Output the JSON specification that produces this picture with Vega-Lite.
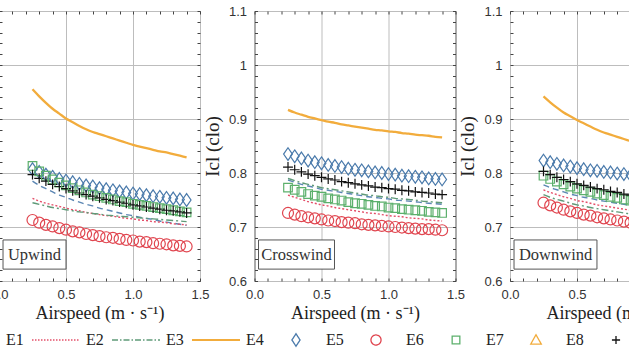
{
  "$schema": "https://vega.github.io/schema/vega-lite/v6.json",
  "usermeta": {"embedOptions": {"actions": false}},
  "padding": {"left": -53, "top": 4, "right": -91, "bottom": 4},
  "bounds": "flush",
  "spacing": 54.5,
  "datasets": {
    "curves": [
      {"p":"U","x":0.25,"E1":0.785,"E2":0.753,"E3":0.745,"E4":0.955,"E5":0.807,"E6":0.713,"E7":0.813,"E9":0.797},
      {"p":"U","x":0.30,"E1":0.777,"E2":0.748,"E3":0.742,"E4":0.942,"E5":0.802,"E6":0.708,"E7":0.803,"E9":0.790},
      {"p":"U","x":0.35,"E1":0.771,"E2":0.744,"E3":0.739,"E4":0.930,"E5":0.797,"E6":0.704,"E7":0.795,"E9":0.785},
      {"p":"U","x":0.40,"E1":0.765,"E2":0.741,"E3":0.736,"E4":0.919,"E5":0.793,"E6":0.701,"E7":0.788,"E9":0.779},
      {"p":"U","x":0.45,"E1":0.759,"E2":0.738,"E3":0.734,"E4":0.910,"E5":0.789,"E6":0.698,"E7":0.782,"E9":0.775},
      {"p":"U","x":0.50,"E1":0.755,"E2":0.735,"E3":0.732,"E4":0.901,"E5":0.786,"E6":0.695,"E7":0.777,"E9":0.771},
      {"p":"U","x":0.55,"E1":0.750,"E2":0.732,"E3":0.730,"E4":0.894,"E5":0.783,"E6":0.692,"E7":0.772,"E9":0.767},
      {"p":"U","x":0.60,"E1":0.746,"E2":0.730,"E3":0.728,"E4":0.887,"E5":0.780,"E6":0.690,"E7":0.768,"E9":0.763},
      {"p":"U","x":0.65,"E1":0.742,"E2":0.727,"E3":0.727,"E4":0.881,"E5":0.777,"E6":0.687,"E7":0.764,"E9":0.760},
      {"p":"U","x":0.70,"E1":0.739,"E2":0.725,"E3":0.725,"E4":0.876,"E5":0.775,"E6":0.685,"E7":0.760,"E9":0.757},
      {"p":"U","x":0.75,"E1":0.735,"E2":0.723,"E3":0.724,"E4":0.872,"E5":0.772,"E6":0.683,"E7":0.757,"E9":0.754},
      {"p":"U","x":0.80,"E1":0.732,"E2":0.721,"E3":0.722,"E4":0.868,"E5":0.770,"E6":0.681,"E7":0.754,"E9":0.751},
      {"p":"U","x":0.85,"E1":0.729,"E2":0.720,"E3":0.721,"E4":0.864,"E5":0.768,"E6":0.680,"E7":0.751,"E9":0.749},
      {"p":"U","x":0.90,"E1":0.726,"E2":0.718,"E3":0.720,"E4":0.860,"E5":0.766,"E6":0.678,"E7":0.748,"E9":0.746},
      {"p":"U","x":0.95,"E1":0.723,"E2":0.716,"E3":0.719,"E4":0.856,"E5":0.764,"E6":0.676,"E7":0.746,"E9":0.744},
      {"p":"U","x":1.00,"E1":0.721,"E2":0.715,"E3":0.718,"E4":0.852,"E5":0.762,"E6":0.675,"E7":0.743,"E9":0.741},
      {"p":"U","x":1.05,"E1":0.718,"E2":0.713,"E3":0.717,"E4":0.849,"E5":0.761,"E6":0.673,"E7":0.741,"E9":0.739},
      {"p":"U","x":1.10,"E1":0.716,"E2":0.712,"E3":0.716,"E4":0.846,"E5":0.759,"E6":0.672,"E7":0.739,"E9":0.737},
      {"p":"U","x":1.15,"E1":0.714,"E2":0.710,"E3":0.715,"E4":0.843,"E5":0.757,"E6":0.670,"E7":0.737,"E9":0.735},
      {"p":"U","x":1.20,"E1":0.711,"E2":0.709,"E3":0.714,"E4":0.840,"E5":0.756,"E6":0.669,"E7":0.735,"E9":0.733},
      {"p":"U","x":1.25,"E1":0.709,"E2":0.708,"E3":0.713,"E4":0.838,"E5":0.754,"E6":0.668,"E7":0.733,"E9":0.731},
      {"p":"U","x":1.30,"E1":0.707,"E2":0.706,"E3":0.712,"E4":0.835,"E5":0.753,"E6":0.666,"E7":0.731,"E9":0.730},
      {"p":"U","x":1.35,"E1":0.705,"E2":0.705,"E3":0.711,"E4":0.832,"E5":0.751,"E6":0.665,"E7":0.729,"E9":0.728},
      {"p":"U","x":1.40,"E1":0.703,"E2":0.704,"E3":0.710,"E4":0.829,"E5":0.750,"E6":0.664,"E7":0.727,"E9":0.726},
      {"p":"C","x":0.25,"E1":0.787,"E2":0.759,"E3":0.790,"E4":0.917,"E5":0.835,"E6":0.726,"E7":0.773,"E9":0.811},
      {"p":"C","x":0.30,"E1":0.783,"E2":0.755,"E3":0.786,"E4":0.912,"E5":0.831,"E6":0.723,"E7":0.769,"E9":0.806},
      {"p":"C","x":0.35,"E1":0.779,"E2":0.751,"E3":0.782,"E4":0.908,"E5":0.827,"E6":0.720,"E7":0.765,"E9":0.802},
      {"p":"C","x":0.40,"E1":0.776,"E2":0.747,"E3":0.779,"E4":0.904,"E5":0.823,"E6":0.718,"E7":0.761,"E9":0.798},
      {"p":"C","x":0.45,"E1":0.773,"E2":0.744,"E3":0.776,"E4":0.901,"E5":0.820,"E6":0.716,"E7":0.758,"E9":0.795},
      {"p":"C","x":0.50,"E1":0.770,"E2":0.741,"E3":0.773,"E4":0.898,"E5":0.818,"E6":0.714,"E7":0.756,"E9":0.792},
      {"p":"C","x":0.55,"E1":0.768,"E2":0.739,"E3":0.771,"E4":0.895,"E5":0.815,"E6":0.712,"E7":0.753,"E9":0.789},
      {"p":"C","x":0.60,"E1":0.766,"E2":0.736,"E3":0.769,"E4":0.893,"E5":0.813,"E6":0.711,"E7":0.751,"E9":0.787},
      {"p":"C","x":0.65,"E1":0.764,"E2":0.734,"E3":0.767,"E4":0.890,"E5":0.811,"E6":0.709,"E7":0.749,"E9":0.784},
      {"p":"C","x":0.70,"E1":0.762,"E2":0.732,"E3":0.765,"E4":0.888,"E5":0.808,"E6":0.708,"E7":0.746,"E9":0.782},
      {"p":"C","x":0.75,"E1":0.760,"E2":0.730,"E3":0.763,"E4":0.886,"E5":0.806,"E6":0.707,"E7":0.744,"E9":0.780},
      {"p":"C","x":0.80,"E1":0.758,"E2":0.728,"E3":0.761,"E4":0.884,"E5":0.805,"E6":0.705,"E7":0.743,"E9":0.778},
      {"p":"C","x":0.85,"E1":0.756,"E2":0.726,"E3":0.759,"E4":0.882,"E5":0.803,"E6":0.704,"E7":0.741,"E9":0.776},
      {"p":"C","x":0.90,"E1":0.755,"E2":0.725,"E3":0.758,"E4":0.880,"E5":0.801,"E6":0.703,"E7":0.739,"E9":0.774},
      {"p":"C","x":0.95,"E1":0.753,"E2":0.723,"E3":0.756,"E4":0.879,"E5":0.800,"E6":0.702,"E7":0.738,"E9":0.773},
      {"p":"C","x":1.00,"E1":0.752,"E2":0.721,"E3":0.755,"E4":0.877,"E5":0.798,"E6":0.701,"E7":0.736,"E9":0.771},
      {"p":"C","x":1.05,"E1":0.750,"E2":0.720,"E3":0.753,"E4":0.876,"E5":0.797,"E6":0.700,"E7":0.735,"E9":0.770},
      {"p":"C","x":1.10,"E1":0.749,"E2":0.719,"E3":0.752,"E4":0.874,"E5":0.795,"E6":0.699,"E7":0.733,"E9":0.768},
      {"p":"C","x":1.15,"E1":0.748,"E2":0.717,"E3":0.751,"E4":0.873,"E5":0.794,"E6":0.698,"E7":0.732,"E9":0.767},
      {"p":"C","x":1.20,"E1":0.747,"E2":0.716,"E3":0.750,"E4":0.871,"E5":0.793,"E6":0.697,"E7":0.731,"E9":0.765},
      {"p":"C","x":1.25,"E1":0.745,"E2":0.715,"E3":0.748,"E4":0.870,"E5":0.792,"E6":0.696,"E7":0.730,"E9":0.764},
      {"p":"C","x":1.30,"E1":0.744,"E2":0.713,"E3":0.747,"E4":0.869,"E5":0.790,"E6":0.696,"E7":0.728,"E9":0.763},
      {"p":"C","x":1.35,"E1":0.743,"E2":0.712,"E3":0.746,"E4":0.867,"E5":0.789,"E6":0.695,"E7":0.727,"E9":0.761},
      {"p":"C","x":1.40,"E1":0.742,"E2":0.711,"E3":0.745,"E4":0.866,"E5":0.788,"E6":0.694,"E7":0.726,"E9":0.760},
      {"p":"D","x":0.25,"E1":0.778,"E2":0.769,"E3":0.760,"E4":0.942,"E5":0.823,"E6":0.745,"E7":0.795,"E9":0.803},
      {"p":"D","x":0.30,"E1":0.773,"E2":0.764,"E3":0.755,"E4":0.931,"E5":0.820,"E6":0.740,"E7":0.789,"E9":0.797},
      {"p":"D","x":0.35,"E1":0.769,"E2":0.760,"E3":0.751,"E4":0.921,"E5":0.817,"E6":0.736,"E7":0.784,"E9":0.792},
      {"p":"D","x":0.40,"E1":0.765,"E2":0.756,"E3":0.748,"E4":0.912,"E5":0.814,"E6":0.732,"E7":0.779,"E9":0.788},
      {"p":"D","x":0.45,"E1":0.761,"E2":0.753,"E3":0.744,"E4":0.905,"E5":0.812,"E6":0.729,"E7":0.775,"E9":0.784},
      {"p":"D","x":0.50,"E1":0.758,"E2":0.749,"E3":0.741,"E4":0.898,"E5":0.809,"E6":0.726,"E7":0.771,"E9":0.780},
      {"p":"D","x":0.55,"E1":0.755,"E2":0.747,"E3":0.739,"E4":0.892,"E5":0.807,"E6":0.723,"E7":0.768,"E9":0.777},
      {"p":"D","x":0.60,"E1":0.753,"E2":0.744,"E3":0.736,"E4":0.886,"E5":0.805,"E6":0.721,"E7":0.765,"E9":0.774},
      {"p":"D","x":0.65,"E1":0.750,"E2":0.741,"E3":0.734,"E4":0.880,"E5":0.804,"E6":0.718,"E7":0.762,"E9":0.771},
      {"p":"D","x":0.70,"E1":0.748,"E2":0.739,"E3":0.732,"E4":0.875,"E5":0.802,"E6":0.716,"E7":0.759,"E9":0.769},
      {"p":"D","x":0.75,"E1":0.746,"E2":0.737,"E3":0.730,"E4":0.871,"E5":0.801,"E6":0.714,"E7":0.756,"E9":0.766},
      {"p":"D","x":0.80,"E1":0.744,"E2":0.735,"E3":0.728,"E4":0.867,"E5":0.799,"E6":0.712,"E7":0.754,"E9":0.764},
      {"p":"D","x":0.85,"E1":0.742,"E2":0.733,"E3":0.726,"E4":0.863,"E5":0.798,"E6":0.710,"E7":0.751,"E9":0.761},
      {"p":"D","x":0.90,"E1":0.740,"E2":0.731,"E3":0.724,"E4":0.859,"E5":0.796,"E6":0.708,"E7":0.749,"E9":0.759},
      {"p":"D","x":0.95,"E1":0.738,"E2":0.729,"E3":0.722,"E4":0.855,"E5":0.795,"E6":0.707,"E7":0.747,"E9":0.757},
      {"p":"D","x":1.00,"E1":0.736,"E2":0.727,"E3":0.721,"E4":0.852,"E5":0.794,"E6":0.705,"E7":0.745,"E9":0.755},
      {"p":"D","x":1.05,"E1":0.735,"E2":0.726,"E3":0.719,"E4":0.849,"E5":0.793,"E6":0.704,"E7":0.743,"E9":0.753},
      {"p":"D","x":1.10,"E1":0.733,"E2":0.724,"E3":0.718,"E4":0.846,"E5":0.792,"E6":0.702,"E7":0.741,"E9":0.752},
      {"p":"D","x":1.15,"E1":0.732,"E2":0.723,"E3":0.716,"E4":0.843,"E5":0.791,"E6":0.701,"E7":0.739,"E9":0.750},
      {"p":"D","x":1.20,"E1":0.730,"E2":0.721,"E3":0.715,"E4":0.840,"E5":0.790,"E6":0.699,"E7":0.738,"E9":0.748},
      {"p":"D","x":1.25,"E1":0.729,"E2":0.720,"E3":0.714,"E4":0.838,"E5":0.789,"E6":0.698,"E7":0.736,"E9":0.747},
      {"p":"D","x":1.30,"E1":0.727,"E2":0.719,"E3":0.712,"E4":0.835,"E5":0.788,"E6":0.697,"E7":0.734,"E9":0.745},
      {"p":"D","x":1.35,"E1":0.726,"E2":0.717,"E3":0.711,"E4":0.832,"E5":0.787,"E6":0.695,"E7":0.733,"E9":0.744},
      {"p":"D","x":1.40,"E1":0.725,"E2":0.716,"E3":0.710,"E4":0.829,"E5":0.786,"E6":0.694,"E7":0.731,"E9":0.742}
    ],
    "boxes": [
      {"p":"U","t":"Upwind","x1":0.03,"x2":0.5,"y1":0.622,"y2":0.676,"xc":0.265,"yc":0.649},
      {"p":"C","t":"Crosswind","x1":0.03,"x2":0.597,"y1":0.622,"y2":0.676,"xc":0.313,"yc":0.649},
      {"p":"D","t":"Downwind","x1":0.03,"x2":0.649,"y1":0.622,"y2":0.676,"xc":0.34,"yc":0.649}
    ]
  },
  "config": {
    "view": {"stroke": "#333333", "strokeWidth": 1},
    "font": "Liberation Sans",
    "axis": {"labelFlush": false, "labelOverlap": false},
    "legend": {
      "title": null, "direction": "horizontal", "columns": 9,
      "symbolSize": 2304, "symbolStrokeWidth": 1.4, "symbolOpacity": 1,
      "labelFont": "Liberation Serif", "labelFontSize": 16, "labelColor": "#222222",
      "labelOffset": 5, "columnPadding": 7, "clipHeight": 16, "padding": 0
    }
  },
  "hconcat": [
    {
      "width": 201, "height": 270,
      "layer": [
        {
          "data": {"name": "curves"},
          "transform": [{"filter": "datum.p == 'U'"}, {"fold": ["E1","E2","E3"], "as": ["s","v"]}],
          "mark": {"type": "line", "interpolate": "monotone", "strokeWidth": 1.4},
          "encoding": {
            "x": {"field": "x", "type": "quantitative", "scale": {"domain": [0,1.5], "nice": false, "zero": false},
                  "axis": {"orient": "bottom", "values": [0,0.5,1,1.5], "format": ".1f", "grid": true, "gridColor": "#bdbdbd", "ticks": false, "domain": false, "labelPadding": 7, "labelFontSize": 13, "labelColor": "#333333", "title": "Airspeed (m · s⁻¹)", "titleFont": "Liberation Serif", "titleFontSize": 18, "titleFontWeight": "normal", "titleColor": "#222222", "titlePadding": 3}},
            "y": {"field": "v", "type": "quantitative", "scale": {"domain": [0.6,1.1], "nice": false, "zero": false},
                  "axis": {"orient": "left", "values": [0.6,0.7,0.8,0.9,1,1.1], "labelExpr": "datum.value == 1 ? '1' : format(datum.value, '.1f')", "grid": true, "gridColor": "#bdbdbd", "ticks": false, "domain": false, "labelPadding": 8, "labelFontSize": 13, "labelColor": "#333333", "title": "Icl (clo)", "titleFont": "Liberation Serif", "titleFontSize": 19, "titleFontWeight": "normal", "titleColor": "#222222", "titlePadding": 6}},
            "color": {"field": "s", "type": "nominal",
                      "scale": {"domain": ["E1","E2","E3","E4","E5","E6","E7","E8","E9"], "range": ["#5b86b3","#e4506a","#5f9a78","#f2ac3c","#4a7aab","#e0454f","#5cb06c","#f2ac3c","#111111"]},
                      "legend": {"orient": "none", "legendX": -48, "legendY": 321,
                        "encode": {"symbols": {"update": {
                          "shape": {"signal": "(datum.value == 'E5' ? 'M0,-0.26L0.17,0L0,0.26L-0.17,0Z' : datum.value == 'E6' ? 'M0.21,0A0.21,0.21 0 1,1 -0.21,0A0.21,0.21 0 1,1 0.21,0Z' : datum.value == 'E7' ? 'M-0.16,-0.16H0.16V0.16H-0.16Z' : datum.value == 'E8' ? 'M0,-0.22L0.22,0.17H-0.22Z' : datum.value == 'E9' ? 'M-0.17,0H0.17M0,-0.17V0.17' : 'M-1,0H1')"},
                          "strokeDash": {"signal": "(datum.value == 'E1' ? [6,3] : datum.value == 'E2' ? [1.5,1.5] : datum.value == 'E3' ? [6,2,1.5,2] : [1,0])"},
                          "strokeWidth": {"signal": "(datum.value == 'E4' ? 2.2 : 1.3)"},
                          "fill": {"value": "transparent"},
                          "opacity": {"value": 1}}}}}},
            "strokeDash": {"field": "s", "type": "nominal", "scale": {"domain": ["E1","E2","E3"], "range": [[6,4],[2,2],[7,3,2,3]]}, "legend": null}
          }
        },
        {
          "data": {"name": "curves"},
          "transform": [{"filter": "datum.p == 'U'"}, {"fold": ["E4"], "as": ["s","v"]}],
          "mark": {"type": "line", "interpolate": "monotone", "strokeWidth": 2.3},
          "encoding": {
            "x": {"field": "x", "type": "quantitative", "axis": {"orient": "top", "values": [0,0.1,0.2,0.3,0.4,0.5,0.6,0.7,0.8,0.9,1,1.1,1.2,1.3,1.4,1.5], "labels": false, "grid": false, "domain": false, "tickSize": -3, "tickColor": "#444444", "title": null}},
            "y": {"field": "v", "type": "quantitative", "axis": {"orient": "right", "values": [0.6,0.62,0.64,0.66,0.68,0.7,0.72,0.74,0.76,0.78,0.8,0.82,0.84,0.86,0.88,0.9,0.92,0.94,0.96,0.98,1,1.02,1.04,1.06,1.08,1.1], "labels": false, "grid": false, "domain": false, "tickSize": -3, "tickColor": "#444444", "title": null}},
            "color": {"field": "s", "type": "nominal"}
          }
        },
        {
          "data": {"name": "curves"},
          "transform": [{"filter": "datum.p == 'U'"}, {"fold": ["E5","E6","E7","E9"], "as": ["s","v"]}],
          "mark": {"type": "point", "filled": false, "opacity": 1, "strokeWidth": 1.2, "size": 121},
          "encoding": {
            "x": {"field": "x", "type": "quantitative", "axis": {"orient": "bottom", "values": [0,0.1,0.2,0.3,0.4,0.5,0.6,0.7,0.8,0.9,1,1.1,1.2,1.3,1.4,1.5], "labels": false, "grid": false, "domain": false, "tickSize": -3, "tickColor": "#444444", "title": null}},
            "y": {"field": "v", "type": "quantitative", "axis": {"orient": "left", "values": [0.6,0.62,0.64,0.66,0.68,0.7,0.72,0.74,0.76,0.78,0.8,0.82,0.84,0.86,0.88,0.9,0.92,0.94,0.96,0.98,1,1.02,1.04,1.06,1.08,1.1], "labels": false, "grid": false, "domain": false, "tickSize": -3, "tickColor": "#444444", "title": null}},
            "color": {"field": "s", "type": "nominal"},
            "shape": {"field": "s", "type": "nominal", "scale": {"domain": ["E5","E6","E7","E8","E9"], "range": ["M0,-1.15L0.8,0L0,1.15L-0.8,0Z","circle","M-0.78,-0.78H0.78V0.78H-0.78Z","triangle-up","M-0.9,0H0.9M0,-0.9V0.9"]}, "legend": null}
          }
        },
        {
          "data": {"name": "boxes"},
          "transform": [{"filter": "datum.p == 'U'"}],
          "mark": {"type": "rect", "fill": "white", "stroke": "#555555", "strokeWidth": 1},
          "encoding": {
            "x": {"field": "x1", "type": "quantitative", "axis": null},
            "x2": {"field": "x2"},
            "y": {"field": "y1", "type": "quantitative", "axis": null},
            "y2": {"field": "y2"}
          }
        },
        {
          "data": {"name": "boxes"},
          "transform": [{"filter": "datum.p == 'U'"}],
          "mark": {"type": "text", "font": "Liberation Serif", "fontSize": 16.5, "color": "#333333", "align": "center", "baseline": "middle"},
          "encoding": {
            "x": {"field": "xc", "type": "quantitative", "axis": null},
            "y": {"field": "yc", "type": "quantitative", "axis": null},
            "text": {"field": "t"}
          }
        }
      ],
      "resolve": {"axis": {"x": "independent", "y": "independent"}}
    },
    {
      "width": 201, "height": 270,
      "layer": [
        {
          "data": {"name": "curves"},
          "transform": [{"filter": "datum.p == 'C'"}, {"fold": ["E1","E2","E3"], "as": ["s","v"]}],
          "mark": {"type": "line", "interpolate": "monotone", "strokeWidth": 1.4},
          "encoding": {
            "x": {"field": "x", "type": "quantitative", "scale": {"domain": [0,1.5], "nice": false, "zero": false},
                  "axis": {"orient": "bottom", "values": [0,0.5,1,1.5], "format": ".1f", "grid": true, "gridColor": "#bdbdbd", "ticks": false, "domain": false, "labelPadding": 7, "labelFontSize": 13, "labelColor": "#333333", "title": "Airspeed (m · s⁻¹)", "titleFont": "Liberation Serif", "titleFontSize": 18, "titleFontWeight": "normal", "titleColor": "#222222", "titlePadding": 3}},
            "y": {"field": "v", "type": "quantitative", "scale": {"domain": [0.6,1.1], "nice": false, "zero": false},
                  "axis": {"orient": "left", "values": [0.6,0.7,0.8,0.9,1,1.1], "labelExpr": "datum.value == 1 ? '1' : format(datum.value, '.1f')", "grid": true, "gridColor": "#bdbdbd", "ticks": false, "domain": false, "labelPadding": 8, "labelFontSize": 13, "labelColor": "#333333", "title": "Icl (clo)", "titleFont": "Liberation Serif", "titleFontSize": 19, "titleFontWeight": "normal", "titleColor": "#222222", "titlePadding": 6}},
            "color": {"field": "s", "type": "nominal"},
            "strokeDash": {"field": "s", "type": "nominal", "scale": {"domain": ["E1","E2","E3"], "range": [[6,4],[2,2],[7,3,2,3]]}, "legend": null}
          }
        },
        {
          "data": {"name": "curves"},
          "transform": [{"filter": "datum.p == 'C'"}, {"fold": ["E4"], "as": ["s","v"]}],
          "mark": {"type": "line", "interpolate": "monotone", "strokeWidth": 2.3},
          "encoding": {
            "x": {"field": "x", "type": "quantitative", "axis": {"orient": "top", "values": [0,0.1,0.2,0.3,0.4,0.5,0.6,0.7,0.8,0.9,1,1.1,1.2,1.3,1.4,1.5], "labels": false, "grid": false, "domain": false, "tickSize": -3, "tickColor": "#444444", "title": null}},
            "y": {"field": "v", "type": "quantitative", "axis": {"orient": "right", "values": [0.6,0.62,0.64,0.66,0.68,0.7,0.72,0.74,0.76,0.78,0.8,0.82,0.84,0.86,0.88,0.9,0.92,0.94,0.96,0.98,1,1.02,1.04,1.06,1.08,1.1], "labels": false, "grid": false, "domain": false, "tickSize": -3, "tickColor": "#444444", "title": null}},
            "color": {"field": "s", "type": "nominal"}
          }
        },
        {
          "data": {"name": "curves"},
          "transform": [{"filter": "datum.p == 'C'"}, {"fold": ["E5","E6","E7","E9"], "as": ["s","v"]}],
          "mark": {"type": "point", "filled": false, "opacity": 1, "strokeWidth": 1.2, "size": 121},
          "encoding": {
            "x": {"field": "x", "type": "quantitative", "axis": {"orient": "bottom", "values": [0,0.1,0.2,0.3,0.4,0.5,0.6,0.7,0.8,0.9,1,1.1,1.2,1.3,1.4,1.5], "labels": false, "grid": false, "domain": false, "tickSize": -3, "tickColor": "#444444", "title": null}},
            "y": {"field": "v", "type": "quantitative", "axis": {"orient": "left", "values": [0.6,0.62,0.64,0.66,0.68,0.7,0.72,0.74,0.76,0.78,0.8,0.82,0.84,0.86,0.88,0.9,0.92,0.94,0.96,0.98,1,1.02,1.04,1.06,1.08,1.1], "labels": false, "grid": false, "domain": false, "tickSize": -3, "tickColor": "#444444", "title": null}},
            "color": {"field": "s", "type": "nominal"},
            "shape": {"field": "s", "type": "nominal", "scale": {"domain": ["E5","E6","E7","E8","E9"], "range": ["M0,-1.15L0.8,0L0,1.15L-0.8,0Z","circle","M-0.78,-0.78H0.78V0.78H-0.78Z","triangle-up","M-0.9,0H0.9M0,-0.9V0.9"]}, "legend": null}
          }
        },
        {
          "data": {"name": "boxes"},
          "transform": [{"filter": "datum.p == 'C'"}],
          "mark": {"type": "rect", "fill": "white", "stroke": "#555555", "strokeWidth": 1},
          "encoding": {
            "x": {"field": "x1", "type": "quantitative", "axis": null},
            "x2": {"field": "x2"},
            "y": {"field": "y1", "type": "quantitative", "axis": null},
            "y2": {"field": "y2"}
          }
        },
        {
          "data": {"name": "boxes"},
          "transform": [{"filter": "datum.p == 'C'"}],
          "mark": {"type": "text", "font": "Liberation Serif", "fontSize": 16.5, "color": "#333333", "align": "center", "baseline": "middle"},
          "encoding": {
            "x": {"field": "xc", "type": "quantitative", "axis": null},
            "y": {"field": "yc", "type": "quantitative", "axis": null},
            "text": {"field": "t"}
          }
        }
      ],
      "resolve": {"axis": {"x": "independent", "y": "independent"}}
    },
    {
      "width": 201, "height": 270,
      "layer": [
        {
          "data": {"name": "curves"},
          "transform": [{"filter": "datum.p == 'D'"}, {"fold": ["E1","E2","E3"], "as": ["s","v"]}],
          "mark": {"type": "line", "interpolate": "monotone", "strokeWidth": 1.4},
          "encoding": {
            "x": {"field": "x", "type": "quantitative", "scale": {"domain": [0,1.5], "nice": false, "zero": false},
                  "axis": {"orient": "bottom", "values": [0,0.5,1,1.5], "format": ".1f", "grid": true, "gridColor": "#bdbdbd", "ticks": false, "domain": false, "labelPadding": 7, "labelFontSize": 13, "labelColor": "#333333", "title": "Airspeed (m · s⁻¹)", "titleFont": "Liberation Serif", "titleFontSize": 18, "titleFontWeight": "normal", "titleColor": "#222222", "titlePadding": 3}},
            "y": {"field": "v", "type": "quantitative", "scale": {"domain": [0.6,1.1], "nice": false, "zero": false},
                  "axis": {"orient": "left", "values": [0.6,0.7,0.8,0.9,1,1.1], "labelExpr": "datum.value == 1 ? '1' : format(datum.value, '.1f')", "grid": true, "gridColor": "#bdbdbd", "ticks": false, "domain": false, "labelPadding": 8, "labelFontSize": 13, "labelColor": "#333333", "title": "Icl (clo)", "titleFont": "Liberation Serif", "titleFontSize": 19, "titleFontWeight": "normal", "titleColor": "#222222", "titlePadding": 6}},
            "color": {"field": "s", "type": "nominal"},
            "strokeDash": {"field": "s", "type": "nominal", "scale": {"domain": ["E1","E2","E3"], "range": [[6,4],[2,2],[7,3,2,3]]}, "legend": null}
          }
        },
        {
          "data": {"name": "curves"},
          "transform": [{"filter": "datum.p == 'D'"}, {"fold": ["E4"], "as": ["s","v"]}],
          "mark": {"type": "line", "interpolate": "monotone", "strokeWidth": 2.3},
          "encoding": {
            "x": {"field": "x", "type": "quantitative", "axis": {"orient": "top", "values": [0,0.1,0.2,0.3,0.4,0.5,0.6,0.7,0.8,0.9,1,1.1,1.2,1.3,1.4,1.5], "labels": false, "grid": false, "domain": false, "tickSize": -3, "tickColor": "#444444", "title": null}},
            "y": {"field": "v", "type": "quantitative", "axis": {"orient": "right", "values": [0.6,0.62,0.64,0.66,0.68,0.7,0.72,0.74,0.76,0.78,0.8,0.82,0.84,0.86,0.88,0.9,0.92,0.94,0.96,0.98,1,1.02,1.04,1.06,1.08,1.1], "labels": false, "grid": false, "domain": false, "tickSize": -3, "tickColor": "#444444", "title": null}},
            "color": {"field": "s", "type": "nominal"}
          }
        },
        {
          "data": {"name": "curves"},
          "transform": [{"filter": "datum.p == 'D'"}, {"fold": ["E5","E6","E7","E9"], "as": ["s","v"]}],
          "mark": {"type": "point", "filled": false, "opacity": 1, "strokeWidth": 1.2, "size": 121},
          "encoding": {
            "x": {"field": "x", "type": "quantitative", "axis": {"orient": "bottom", "values": [0,0.1,0.2,0.3,0.4,0.5,0.6,0.7,0.8,0.9,1,1.1,1.2,1.3,1.4,1.5], "labels": false, "grid": false, "domain": false, "tickSize": -3, "tickColor": "#444444", "title": null}},
            "y": {"field": "v", "type": "quantitative", "axis": {"orient": "left", "values": [0.6,0.62,0.64,0.66,0.68,0.7,0.72,0.74,0.76,0.78,0.8,0.82,0.84,0.86,0.88,0.9,0.92,0.94,0.96,0.98,1,1.02,1.04,1.06,1.08,1.1], "labels": false, "grid": false, "domain": false, "tickSize": -3, "tickColor": "#444444", "title": null}},
            "color": {"field": "s", "type": "nominal"},
            "shape": {"field": "s", "type": "nominal", "scale": {"domain": ["E5","E6","E7","E8","E9"], "range": ["M0,-1.15L0.8,0L0,1.15L-0.8,0Z","circle","M-0.78,-0.78H0.78V0.78H-0.78Z","triangle-up","M-0.9,0H0.9M0,-0.9V0.9"]}, "legend": null}
          }
        },
        {
          "data": {"name": "boxes"},
          "transform": [{"filter": "datum.p == 'D'"}],
          "mark": {"type": "rect", "fill": "white", "stroke": "#555555", "strokeWidth": 1},
          "encoding": {
            "x": {"field": "x1", "type": "quantitative", "axis": null},
            "x2": {"field": "x2"},
            "y": {"field": "y1", "type": "quantitative", "axis": null},
            "y2": {"field": "y2"}
          }
        },
        {
          "data": {"name": "boxes"},
          "transform": [{"filter": "datum.p == 'D'"}],
          "mark": {"type": "text", "font": "Liberation Serif", "fontSize": 16.5, "color": "#333333", "align": "center", "baseline": "middle"},
          "encoding": {
            "x": {"field": "xc", "type": "quantitative", "axis": null},
            "y": {"field": "yc", "type": "quantitative", "axis": null},
            "text": {"field": "t"}
          }
        }
      ],
      "resolve": {"axis": {"x": "independent", "y": "independent"}}
    }
  ]
}
